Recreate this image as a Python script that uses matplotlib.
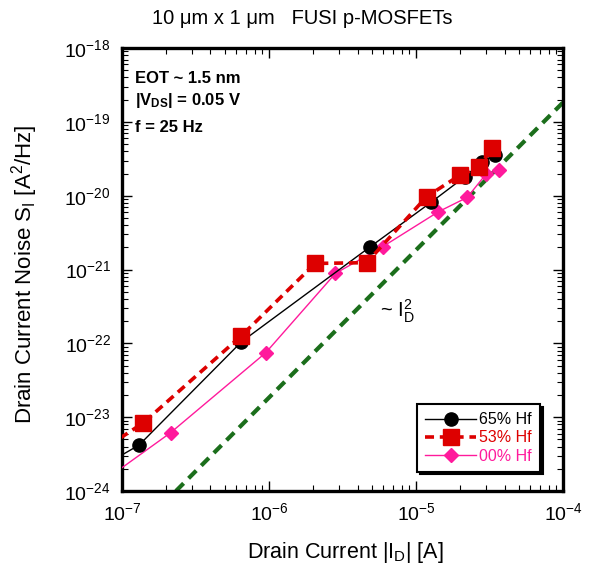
import matplotlib
matplotlib.use("Agg")
import matplotlib.pyplot as plt
import numpy as np

plt.rcParams['font.family'] = ['Liberation Sans', 'DejaVu Sans']
plt.rcParams['mathtext.fontset'] = 'custom'
plt.rcParams['mathtext.rm'] = 'Liberation Sans'
plt.rcParams['mathtext.it'] = 'Liberation Sans:italic'
plt.rcParams['mathtext.bf'] = 'Liberation Sans:bold'

# 65% Hf (first point lies just left of the axes)
id_65 = [8.0e-8, 1.31e-7, 6.5e-7, 4.89e-6, 1.26e-5, 2.15e-5, 2.8e-5, 3.44e-5]
si_65 = [2.38e-24, 4.2e-24, 1.05e-22, 2.04e-21, 8.1e-21, 1.81e-20, 2.88e-20, 3.55e-20]

# 53% Hf
id_53 = [8.0e-8, 1.40e-7, 6.5e-7, 2.06e-6, 4.62e-6, 1.18e-5, 1.99e-5, 2.69e-5, 3.27e-5]
si_53 = [4.03e-24, 8.4e-24, 1.27e-22, 1.21e-21, 1.24e-21, 9.7e-21, 1.9e-20, 2.42e-20, 4.38e-20]

# 00% Hf
id_00 = [8.0e-8, 2.14e-7, 9.5e-7, 2.83e-6, 5.93e-6, 1.42e-5, 2.23e-5, 2.99e-5, 3.67e-5]
si_00 = [1.5e-24, 6.15e-24, 7.46e-23, 8.87e-22, 2.04e-21, 6.07e-21, 9.5e-21, 1.96e-20, 2.23e-20]

# ~ I_D^2 guide line
id_sq = [2.33e-7, 1.0e-4]
si_sq = [1.0e-24, 1.84e-19]

x_ticks = [1e-7, 1e-6, 1e-5, 1e-4]
y_ticks = [1e-24, 1e-23, 1e-22, 1e-21, 1e-20, 1e-19, 1e-18]

fig = plt.figure(figsize=(5.89, 5.66), dpi=100)
ax = fig.add_axes([0.207, 0.1325, 0.749, 0.7825])

ax.plot(id_sq, si_sq, color='#1b6e1b', lw=3, dashes=(2.6, 1.7))
ax.plot(id_00, si_00, color='#ff1a9c', lw=1, marker='D', ms=7.5,
        mec='#ff1a9c', label='00% Hf', zorder=3)
ax.plot(id_65, si_65, color='black', lw=1, marker='o', ms=9.5,
        label='65% Hf', zorder=4)
ax.plot(id_53, si_53, color='#dd0000', lw=2.6, dashes=(2.5, 1.6), marker='s',
        ms=11.5, label='53% Hf', zorder=5)

ax.set_xscale('log')
ax.set_yscale('log')
ax.set_xlim(1e-7, 1e-4)
ax.set_ylim(1e-24, 1e-18)
ax.set_xticks(x_ticks)
ax.set_yticks(y_ticks)
ax.yaxis.set_minor_locator(matplotlib.ticker.LogLocator(base=10, subs=np.arange(2, 10), numticks=20))
ax.yaxis.set_minor_formatter(matplotlib.ticker.NullFormatter())
ax.xaxis.set_minor_formatter(matplotlib.ticker.NullFormatter())

for s in ax.spines.values():
    s.set_linewidth(2.4)
ax.tick_params(which='both', direction='in', top=True, right=True)
ax.tick_params(which='major', length=7, width=1, labelsize=14, pad=8)
ax.tick_params(which='minor', length=4, width=0.8)

ax.set_xlabel('Drain Current |I$_\\mathrm{D}$| [A]', fontsize=15.5)
ax.xaxis.set_label_coords(0.506, -0.11)
ax.set_ylabel('Drain Current Noise S$_\\mathrm{I}$ [A$^\\mathrm{2}$/Hz]', fontsize=16)
ax.yaxis.set_label_coords(-0.185, 0.49)
fig.text(0.514, 0.968, '10 \u03bcm x 1 \u03bcm   FUSI p-MOSFETs', fontsize=14.5,
         ha='center', va='center')

ax.text(0.03, 0.932, 'EOT ~ 1.5 nm', transform=ax.transAxes, fontsize=12,
        fontweight='bold', va='center')
ax.text(0.03, 0.882, '|V$_\\mathbf{DS}$| = 0.05 V', transform=ax.transAxes, fontsize=12,
        fontweight='bold', va='center')
ax.text(0.03, 0.82, 'f = 25 Hz', transform=ax.transAxes, fontsize=12,
        fontweight='bold', va='center')
ax.text(0.585, 0.405, '~ $\\mathrm{I}_\\mathrm{D}^\\mathrm{2}$', transform=ax.transAxes,
        fontsize=14.5, va='center')

handles, labels = ax.get_legend_handles_labels()
order = [1, 2, 0]
leg = ax.legend([handles[i] for i in order], [labels[i] for i in order],
                loc='lower right', bbox_to_anchor=(0.966, 0.026), fontsize=11.5,
                fancybox=False, edgecolor='black', framealpha=1,
                shadow={'color': 'black', 'alpha': 1, 'ox': 2, 'oy': -2},
                handlelength=3.2, handletextpad=0.2, borderpad=0.5, labelspacing=0.2)
leg.get_frame().set_linewidth(1.5)
for txt, c in zip(leg.get_texts(), ['black', '#dd0000', '#ff1a9c']):
    txt.set_color(c)

fig.savefig('out.png', dpi=100)
